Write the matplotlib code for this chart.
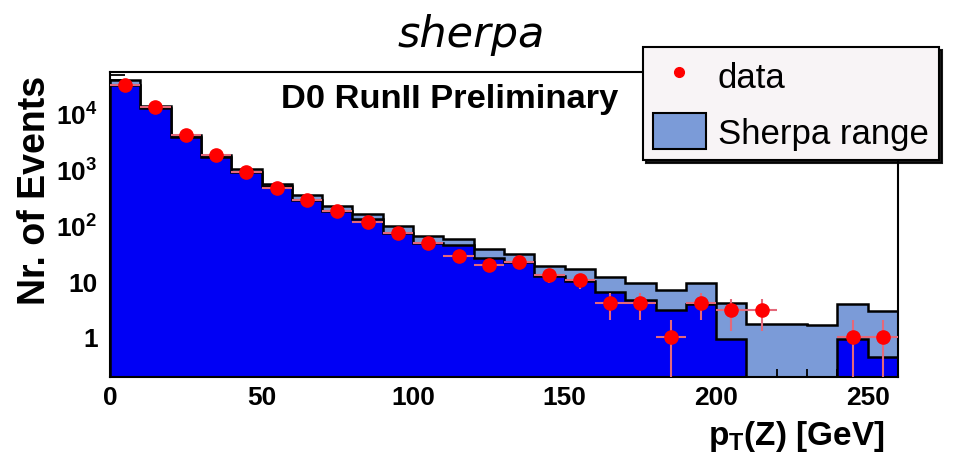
import numpy as np
import matplotlib
matplotlib.use("Agg")
import matplotlib.pyplot as plt
from matplotlib.lines import Line2D
from matplotlib.patches import Patch

plt.rcParams['font.family'] = ['Liberation Sans', 'DejaVu Sans']
plt.rcParams['mathtext.default'] = 'regular'

# pT(Z) binning, 10 GeV bins
edges = np.arange(0, 270, 10)

# Sherpa range: upper and lower edge of the band per bin
sherpa_hi = [4.0e4, 1.4e4, 4200, 1850, 1000, 560, 355, 221, 157, 95, 63, 56, 37,
             31, 18.7, 16.4, 11.6, 9.2, 7.0, 9.2, 4.0, 1.7, 1.7, 1.6, 3.9, 2.9]
sherpa_lo = [3.3e4, 1.25e4, 3900, 1650, 900, 500, 282, 180, 128, 72, 48, 44, 26,
             21.5, 12.4, 10.1, 6.4, 4.6, 3.0, 3.9, 0.9, 0, 0, 0, 0.9, 0.43]

# D0 data points (bin centres with entries)
data_x = [5, 15, 25, 35, 45, 55, 65, 75, 85, 95, 105, 115, 125, 135, 145, 155,
          165, 175, 185, 195, 205, 215, 245, 255]
data_y = [3.3e4, 1.33e4, 4200, 1850, 920, 460, 280, 180, 115, 72, 49, 28.5, 19.5,
          22, 12.8, 10.3, 4, 4, 1, 4, 3, 3, 1, 1]
data_err = [180, 115, 65, 43, 30, 21, 17, 13.4, 10.7, 8.5, 7, 5.3, 4.4, 4.7, 3.6,
            3.2, 2, 2, 1, 2, 1.73, 1.73, 1, 1]

light = '#7b9bd8'
blue = '#0000f5'
red = '#ff0000'
errc = '#e4687a'

fig = plt.figure(figsize=(9.55, 4.6), dpi=100)
ax = fig.add_axes([110 / 955, 82 / 460, 788 / 955, 305 / 460])
ax.set_yscale('log')

hi = np.array(sherpa_hi)
lo = np.maximum(np.array(sherpa_lo), 1e-3)
ax.stairs(hi, edges, baseline=1e-3, fill=True, facecolor=light, edgecolor='black', lw=1.8, zorder=1)
ax.stairs(lo, edges, baseline=1e-3, fill=True, facecolor=blue, edgecolor='black', lw=1.8, zorder=2)

y = np.array(data_y)
e = np.array(data_err)
ax.errorbar(data_x, y, yerr=[np.minimum(e, y * 0.999), e], xerr=5, fmt='none',
            ecolor=errc, elinewidth=1.5, capsize=0, zorder=3)
ax.plot(data_x, y, 'o', color=red, ms=9.5, zorder=4)

ax.set_xlim(0, 260)
ax.set_ylim(0.19, 5.6e4)
ax.set_xticks(np.arange(0, 251, 50))
ax.set_xticks(np.arange(0, 261, 10), minor=True)
ax.set_yticks([1, 10, 100, 1000, 10000])
ax.set_yticklabels(['1', '10', '$10^2$', '$10^3$', '$10^4$'])
ax.tick_params(which='both', direction='in', top=False, right=False, width=1.3)
ax.tick_params(axis='y', which='major', length=20, pad=9, labelsize=19)
ax.tick_params(axis='y', which='minor', length=11)
ax.tick_params(axis='x', which='major', length=11, pad=6, labelsize=19)
ax.tick_params(axis='x', which='minor', length=6)
for lab in ax.get_xticklabels() + ax.get_yticklabels():
    lab.set_fontweight('bold')
for s in ax.spines.values():
    s.set_linewidth(1.5)

fig.text(35 / 955, 1 - 190 / 460, 'Nr. of Events', rotation=90, ha='center', va='center',
         fontsize=27, fontweight='bold')
fig.text(885 / 955, 1 - 445 / 460, 'p$_{T}$(Z) [GeV]', ha='right', va='baseline',
         fontsize=24, fontweight='bold')
fig.text(281 / 955, 1 - 108 / 460, 'D0 RunII Preliminary', ha='left', va='baseline',
         fontsize=24.8, fontweight='bold')
fig.text(471 / 955, 1 - 47 / 460, 'sherpa', ha='center', va='baseline',
         fontsize=31, style='italic', family='DejaVu Sans')

handles = [Line2D([], [], marker='o', color=red, ls='none', ms=7),
           Patch(facecolor=light, edgecolor='black', lw=1.5)]
leg = fig.legend(handles, ['data', 'Sherpa range'], loc='upper left',
                 bbox_to_anchor=(643 / 955, 1 - 48 / 460), bbox_transform=fig.transFigure,
                 fontsize=25, frameon=True, fancybox=False, framealpha=1,
                 facecolor='#f8f4f6', edgecolor='black', borderpad=0.3,
                 handlelength=1.5, handleheight=1.2, handletextpad=0.35,
                 labelspacing=0.55, borderaxespad=0,
                 shadow={'color': 'black', 'alpha': 0.9})
leg.get_frame().set_linewidth(1.5)

fig.savefig('out.png', dpi=100)
